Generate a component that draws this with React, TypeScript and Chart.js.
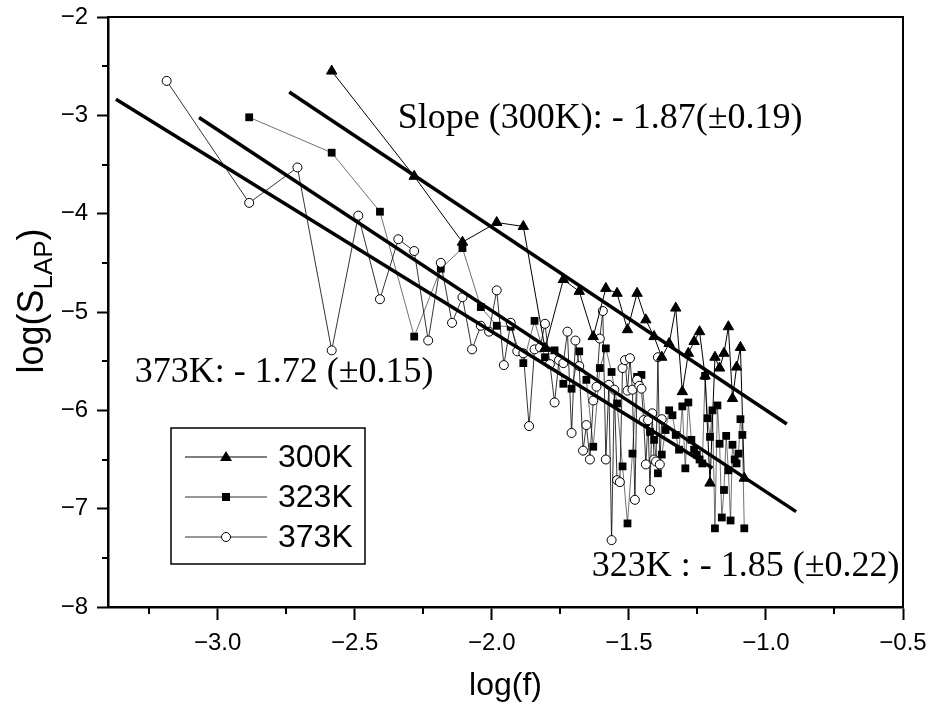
import React, { useEffect, useRef } from "react";
import { Chart, registerables } from "chart.js";

Chart.register(...registerables);

// ---- data ----
const X_300 = [-2.584, -2.283, -2.107, -1.982, -1.885, -1.806, -1.739, -1.681, -1.63, -1.584, -1.543, -1.505, -1.47, -1.438, -1.408, -1.38, -1.353, -1.329, -1.305, -1.283, -1.262, -1.242, -1.222, -1.204, -1.186, -1.169, -1.153, -1.137, -1.122, -1.107, -1.093, -1.079];
const Y_300 = [-2.55, -3.62, -4.29, -4.09, -4.13, -5.37, -4.67, -4.79, -5.25, -4.76, -4.81, -5.18, -4.81, -5.08, -5.25, -5.46, -5.32, -4.96, -5.81, -5.42, -5.3, -5.2, -5.65, -6.74, -5.46, -5.57, -5.42, -5.15, -5.88, -5.56, -5.36, -6.69];

const X_323 = [-2.885, -2.584, -2.408, -2.283, -2.186, -2.107, -2.04, -1.982, -1.931, -1.885, -1.844, -1.806, -1.771, -1.739, -1.709, -1.681, -1.655, -1.63, -1.606, -1.584, -1.563, -1.543, -1.523, -1.505, -1.487, -1.47, -1.454, -1.438, -1.423, -1.408, -1.394, -1.38, -1.366, -1.353, -1.341, -1.329, -1.317, -1.305, -1.294, -1.283, -1.272, -1.262, -1.252, -1.242, -1.232, -1.222, -1.213, -1.204, -1.195, -1.186, -1.177, -1.169, -1.161, -1.153, -1.145, -1.137, -1.129, -1.122, -1.114, -1.107, -1.1, -1.093, -1.086, -1.079];
const Y_323 = [-3.02, -3.38, -3.98, -5.25, -4.56, -4.35, -4.95, -5.14, -5.15, -5.52, -5.09, -5.46, -5.39, -5.73, -5.78, -5.4, -5.69, -6.37, -5.57, -5.37, -5.61, -5.93, -6.57, -7.15, -6.44, -5.66, -5.64, -6.12, -6.22, -6.3, -6.64, -6.45, -6.2, -6.0, -6.05, -6.25, -6.4, -5.96, -6.59, -5.92, -6.3, -6.4, -6.45, -6.5, -6.54, -5.65, -6.08, -6.27, -6.0, -7.2, -5.95, -6.34, -7.09, -6.81, -6.26, -6.61, -7.12, -6.35, -6.5, -6.54, -6.44, -6.09, -6.25, -7.2];

const X_373 = [-3.186, -2.885, -2.709, -2.584, -2.487, -2.408, -2.341, -2.283, -2.232, -2.186, -2.145, -2.107, -2.072, -2.04, -2.01, -1.982, -1.956, -1.931, -1.907, -1.885, -1.864, -1.844, -1.824, -1.806, -1.788, -1.771, -1.755, -1.739, -1.724, -1.709, -1.695, -1.681, -1.667, -1.655, -1.642, -1.63, -1.618, -1.606, -1.595, -1.584, -1.573, -1.563, -1.553, -1.543, -1.533, -1.523, -1.514, -1.505, -1.496, -1.487, -1.478, -1.47, -1.462, -1.454, -1.446, -1.438, -1.43, -1.423, -1.415, -1.408, -1.401, -1.394, -1.387, -1.38];
const Y_373 = [-2.65, -3.89, -3.53, -5.39, -4.02, -4.87, -4.26, -4.38, -5.29, -4.5, -5.11, -4.85, -5.38, -5.14, -5.2, -4.78, -5.54, -5.11, -5.4, -5.42, -6.16, -5.38, -5.36, -5.12, -5.53, -5.92, -5.49, -5.52, -5.2, -6.23, -5.29, -5.55, -6.41, -6.15, -6.5, -5.9, -5.76, -5.27, -4.99, -6.5, -5.74, -7.32, -5.79, -6.71, -6.73, -5.57, -5.49, -5.8, -5.47, -5.79, -6.91, -5.69, -5.75, -5.78, -6.1, -6.55, -6.1, -6.81, -6.03, -6.5, -6.52, -5.46, -6.55, -6.09];

// fitted lines (end points)
const FIT_300_X = [-2.739, -0.924];
const FIT_300_Y = [-2.762, -6.139];
const FIT_323_X = [-3.068, -0.89];
const FIT_323_Y = [-3.022, -7.03];
const FIT_373_X = [-3.371, -1.195];
const FIT_373_Y = [-2.836, -6.586];

const SERIES_LABELS = ["300K", "323K", "373K"];
const FIT_LABELS = [
  "Slope (300K): - 1.87(\u00B10.19)",
  "373K: - 1.72 (\u00B10.15)",
  "323K : - 1.85 (\u00B10.22)",
];
const FIT_LABEL_X = [-2.343, -3.302, -1.635];
const FIT_LABEL_Y = [-3.03, -5.62, -7.593];

const X_TICKS = [-3.0, -2.5, -2.0, -1.5, -1.0, -0.5];
const X_MINOR = [-3.25, -2.75, -2.25, -1.75, -1.25, -0.75];
const Y_TICKS = [-8, -7, -6, -5, -4, -3, -2];
const Y_MINOR = [-7.5, -6.5, -5.5, -4.5, -3.5, -2.5];

const SANS = "'Liberation Sans', Arial, sans-serif";
const SERIF = "'Liberation Serif', 'Times New Roman', serif";

const pts = (xs: number[], ys: number[]) => xs.map((x, i) => ({ x, y: ys[i] }));
const minus = (s: string) => s.replace("-", "\u2212");

const decorPlugin = {
  id: "decor",
  afterDraw(chart: any) {
    const ctx = chart.ctx as CanvasRenderingContext2D;
    const { left, right, top, bottom } = chart.chartArea;
    const xs = chart.scales.x;
    const ys = chart.scales.y;
    ctx.save();
    ctx.strokeStyle = "#000";
    // frame top / right
    ctx.lineWidth = 2;
    ctx.beginPath();
    ctx.moveTo(left, top);
    ctx.lineTo(right, top);
    ctx.lineTo(right, bottom);
    ctx.stroke();
    // minor ticks
    ctx.lineWidth = 2;
    ctx.beginPath();
    X_MINOR.forEach((v) => {
      const px = Math.round(xs.getPixelForValue(v));
      ctx.moveTo(px, bottom);
      ctx.lineTo(px, bottom + 7);
    });
    Y_MINOR.forEach((v) => {
      const py = Math.round(ys.getPixelForValue(v));
      ctx.moveTo(left, py);
      ctx.lineTo(left - 6, py);
    });
    ctx.stroke();

    // fit annotations
    ctx.fillStyle = "#000";
    ctx.font = `36px ${SERIF}`;
    ctx.textBaseline = "middle";
    ctx.textAlign = "left";
    FIT_LABELS.forEach((t, i) => {
      ctx.fillText(t, xs.getPixelForValue(FIT_LABEL_X[i]), ys.getPixelForValue(FIT_LABEL_Y[i]));
    });

    // y axis title with subscript
    ctx.save();
    ctx.translate(32, 301);
    ctx.rotate(-Math.PI / 2);
    const big = `36px ${SANS}`;
    const small = `26px ${SANS}`;
    ctx.font = big;
    const w1 = ctx.measureText("log(S").width;
    const w3 = ctx.measureText(")").width;
    ctx.font = small;
    const w2 = ctx.measureText("LAP").width;
    let sx = -(w1 + w2 + w3) / 2;
    ctx.textBaseline = "alphabetic";
    ctx.font = big;
    ctx.fillText("log(S", sx, 11);
    sx += w1;
    ctx.font = small;
    ctx.fillText("LAP", sx, 20);
    sx += w2;
    ctx.font = big;
    ctx.fillText(")", sx, 11);
    ctx.restore();

    // legend
    const bx = 171, by = 428, bw = 194, bh = 136;
    ctx.lineWidth = 1.5;
    ctx.strokeRect(bx, by, bw, bh);
    const rows = [457, 497, 537];
    SERIES_LABELS.forEach((lab, i) => {
      const y = rows[i];
      ctx.beginPath();
      ctx.lineWidth = i === 0 ? 1 : 0.8;
      ctx.moveTo(185, y);
      ctx.lineTo(267, y);
      ctx.stroke();
      const cx = 226;
      ctx.lineWidth = 1;
      if (i === 0) {
        ctx.beginPath();
        ctx.moveTo(cx, y - 6);
        ctx.lineTo(cx + 6, y + 4);
        ctx.lineTo(cx - 6, y + 4);
        ctx.closePath();
        ctx.fill();
      } else if (i === 1) {
        ctx.fillRect(cx - 4, y - 4, 8, 8);
      } else {
        ctx.beginPath();
        ctx.arc(cx, y, 4.5, 0, Math.PI * 2);
        ctx.fillStyle = "#fff";
        ctx.fill();
        ctx.stroke();
        ctx.fillStyle = "#000";
      }
      ctx.font = `32px ${SANS}`;
      ctx.textBaseline = "middle";
      ctx.fillText(lab, 278, y + 1);
    });
    ctx.restore();
  },
};

export default function App() {
  const ref = useRef<HTMLCanvasElement>(null);
  useEffect(() => {
    const canvas = ref.current;
    if (!canvas) return;
    const fitStyle = {
      showLine: true,
      borderColor: "#000",
      borderWidth: 3.5,
      pointRadius: 0,
      order: 0,
    };
    const chart = new Chart(canvas, {
      type: "scatter",
      data: {
        datasets: [
          {
            label: SERIES_LABELS[0],
            data: pts(X_300, Y_300),
            showLine: true,
            borderColor: "#000",
            borderWidth: 1,
            pointStyle: "triangle",
            pointRadius: 6,
            pointBackgroundColor: "#000",
            pointBorderColor: "#000",
            pointBorderWidth: 1,
            order: 1,
          },
          {
            label: SERIES_LABELS[1],
            data: pts(X_323, Y_323),
            showLine: true,
            borderColor: "#333",
            borderWidth: 0.7,
            pointStyle: "rect",
            pointRadius: 5.5,
            pointBackgroundColor: "#000",
            pointBorderColor: "#000",
            pointBorderWidth: 0,
            order: 3,
          },
          {
            label: SERIES_LABELS[2],
            data: pts(X_373, Y_373),
            showLine: true,
            borderColor: "#000",
            borderWidth: 0.8,
            pointStyle: "circle",
            pointRadius: 4.5,
            pointBackgroundColor: "#fff",
            pointBorderColor: "#000",
            pointBorderWidth: 1,
            order: 2,
          },
          { label: "fit300", data: pts(FIT_300_X, FIT_300_Y), ...fitStyle },
          { label: "fit323", data: pts(FIT_323_X, FIT_323_Y), ...fitStyle },
          { label: "fit373", data: pts(FIT_373_X, FIT_373_Y), ...fitStyle },
        ] as any,
      },
      options: {
        responsive: false,
        animation: false,
        devicePixelRatio: 1,
        events: [],
        layout: { padding: { top: 17, right: 27, left: 0, bottom: 0 } },
        elements: { line: { tension: 0 } },
        plugins: {
          legend: { display: false },
          tooltip: { enabled: false },
        },
        scales: {
          x: {
            type: "linear",
            min: -3.4,
            max: -0.5,
            afterBuildTicks: (s: any) => {
              s.ticks = X_TICKS.map((v) => ({ value: v }));
            },
            afterFit: (s: any) => {
              s.height = 99;
              s.paddingLeft = 0;
              s.paddingRight = 0;
            },
            border: { display: true, color: "#000", width: 2.5 },
            grid: {
              display: true,
              drawOnChartArea: false,
              drawTicks: true,
              tickLength: 13,
              tickWidth: 2,
              tickColor: "#000",
              color: "#000",
            },
            ticks: {
              color: "#000",
              font: { family: SANS, size: 24 },
              padding: 9,
              maxRotation: 0,
              callback: (v: any) => minus(Number(v).toFixed(1)),
            },
            title: {
              display: true,
              text: "log(f)",
              color: "#000",
              font: { family: SANS, size: 32 },
              padding: { top: 0, bottom: 1 },
            },
          },
          y: {
            type: "linear",
            min: -8,
            max: -2,
            afterBuildTicks: (s: any) => {
              s.ticks = Y_TICKS.map((v) => ({ value: v }));
            },
            afterFit: (s: any) => {
              s.width = 108;
              s.paddingTop = 0;
              s.paddingBottom = 0;
            },
            border: { display: true, color: "#000", width: 2.5 },
            grid: {
              display: true,
              drawOnChartArea: false,
              drawTicks: true,
              tickLength: 11,
              tickWidth: 2,
              tickColor: "#000",
              color: "#000",
            },
            ticks: {
              color: "#000",
              font: { family: SANS, size: 24 },
              padding: 9,
              callback: (v: any) => minus(String(Number(v))),
            },
          },
        },
      },
      plugins: [decorPlugin],
    } as any);
    return () => chart.destroy();
  }, []);
  return (
    <div style={{ position: "absolute", left: 0, top: 0, width: 930, height: 706, background: "#fff" }}>
      <canvas ref={ref} width={930} height={706} style={{ display: "block", width: 930, height: 706 }} />
    </div>
  );
}
